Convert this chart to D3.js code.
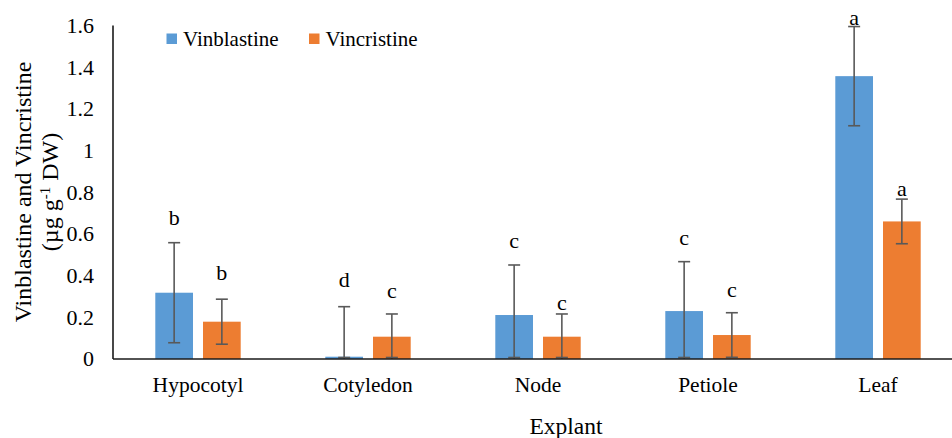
<!DOCTYPE html>
<html>
<head>
<meta charset="utf-8">
<script src="https://cdn.jsdelivr.net/npm/d3@7"></script>
<style>
  body { margin: 0; background: #fff; }
  svg text { font-family: "Liberation Serif", "DejaVu Serif", serif; fill: #000; }
</style>
</head>
<body>
<div id="chart"></div>
<script>
// Data
const explants = ["Hypocotyl", "Cotyledon", "Node", "Petiole", "Leaf"];
const seriesNames = ["Vinblastine", "Vincristine"];
const vinblastine = [0.318, 0.011, 0.211, 0.230, 1.357];
const vinblastineErr = [0.240, 0.240, 0.240, 0.237, 0.238];
const vincristine = [0.179, 0.107, 0.107, 0.115, 0.660];
const vincristineErr = [0.108, 0.109, 0.109, 0.107, 0.107];
const vinblastineLetters = ["b", "d", "c", "c", "a"];
const vincristineLetters = ["b", "c", "c", "c", "a"];
// where the letters sit, in y-axis units
const vinblastineLetterAt = [0.676, 0.379, 0.563, 0.580, 1.635];
const vincristineLetterAt = [0.412, 0.323, 0.269, 0.331, 0.815];
const yTicks = [0, 0.2, 0.4, 0.6, 0.8, 1, 1.2, 1.4, 1.6];

const colors = {Vinblastine: "#5B9BD5", Vincristine: "#ED7D31"};

const width = 952;
const height = 438;
const plot = {left: 113, right: 963, top: 25.5, bottom: 359};
const serif = "'Liberation Serif', 'DejaVu Serif', serif";

const svg = d3.select("#chart")
  .append("svg")
  .attr("width", width)
  .attr("height", height)
  .attr("font-family", serif);

// build rows
const rows = [];
explants.forEach((e, i) => {
  rows.push({explant: e, series: "Vinblastine", value: vinblastine[i], err: vinblastineErr[i],
    letter: vinblastineLetters[i], letterAt: vinblastineLetterAt[i]});
  rows.push({explant: e, series: "Vincristine", value: vincristine[i], err: vincristineErr[i],
    letter: vincristineLetters[i], letterAt: vincristineLetterAt[i]});
});

const x0 = d3.scaleBand()
  .domain(explants)
  .range([plot.left, plot.right])
  .padding(0);

const x1 = d3.scaleBand()
  .domain(seriesNames)
  .range([x0.bandwidth() / 2 - 42.7, x0.bandwidth() / 2 + 42.7])
  .paddingInner(0.21);

const y = d3.scaleLinear()
  .domain([0, 1.6])
  .range([plot.bottom, plot.top]);

// Y tick labels (no tick marks)
svg.append("g")
  .selectAll("text")
  .data(yTicks)
  .enter()
  .append("text")
  .attr("x", 94)
  .attr("y", d => y(d))
  .attr("dy", "0.34em")
  .attr("text-anchor", "end")
  .style("font-family", serif)
  .style("font-size", "22px")
  .text(d => d3.format("")(d));

// Bars
svg.append("g")
  .selectAll("rect")
  .data(rows)
  .enter()
  .append("rect")
  .attr("x", d => x0(d.explant) + x1(d.series))
  .attr("y", d => y(d.value))
  .attr("width", x1.bandwidth())
  .attr("height", d => y(0) - y(d.value))
  .attr("fill", d => colors[d.series]);

// Error bars
const eb = svg.append("g")
  .attr("stroke", "#595959")
  .attr("stroke-width", 1.6);

rows.forEach(d => {
  const cx = x0(d.explant) + x1(d.series) + x1.bandwidth() / 2;
  const top = y(d.value + d.err);
  const bot = y(Math.max(0, d.value - d.err));
  eb.append("line").attr("x1", cx).attr("x2", cx).attr("y1", top).attr("y2", bot);
  eb.append("line").attr("x1", cx - 6).attr("x2", cx + 6).attr("y1", top).attr("y2", top);
  if (d.value - d.err > 0) {
    eb.append("line").attr("x1", cx - 6).attr("x2", cx + 6).attr("y1", bot).attr("y2", bot);
  } else {
    eb.append("line").attr("x1", cx - 6).attr("x2", cx + 6).attr("y1", bot - 1.5).attr("y2", bot - 1.5);
  }
});

// Significance letters
svg.append("g")
  .selectAll("text")
  .data(rows)
  .enter()
  .append("text")
  .attr("x", d => x0(d.explant) + x1(d.series) + x1.bandwidth() / 2)
  .attr("y", d => y(d.letterAt))
  .attr("dy", "0.3em")
  .attr("text-anchor", "middle")
  .style("font-family", serif)
  .style("font-size", "22px")
  .text(d => d.letter);

// Axes lines
svg.append("line")
  .attr("x1", plot.left).attr("x2", width)
  .attr("y1", y(0)).attr("y2", y(0))
  .attr("stroke", "#1a1a1a").attr("stroke-width", 1.6);

svg.append("line")
  .attr("x1", plot.left).attr("x2", plot.left)
  .attr("y1", y(1.6)).attr("y2", y(0))
  .attr("stroke", "#1a1a1a").attr("stroke-width", 1.6);

// Category labels
svg.append("g")
  .selectAll("text")
  .data(explants)
  .enter()
  .append("text")
  .attr("x", d => x0(d) + x0.bandwidth() / 2)
  .attr("y", 392)
  .attr("text-anchor", "middle")
  .style("font-family", serif)
  .style("font-size", "21.5px")
  .text(d => d);

// X axis title
svg.append("text")
  .attr("x", 566)
  .attr("y", 434)
  .attr("text-anchor", "middle")
  .style("font-family", serif)
  .style("font-size", "23.5px")
  .text("Explant");

// Y axis title (two lines)
const yTitle = svg.append("text")
  .attr("transform", "translate(31,192) rotate(-90)")
  .attr("text-anchor", "middle")
  .style("font-family", serif)
  .style("font-size", "24px");

yTitle.append("tspan")
  .attr("x", 0)
  .attr("y", 0)
  .text("Vinblastine and Vincristine");

yTitle.append("tspan")
  .attr("x", 0)
  .attr("y", 27)
  .text("(µg g");
yTitle.append("tspan")
  .attr("dy", -8)
  .style("font-size", "15px")
  .text("-1");
yTitle.append("tspan")
  .attr("dy", 8)
  .text(" DW)");

// Legend
const legend = svg.append("g");
const legendX = [166.5, 309];
seriesNames.forEach((s, i) => {
  legend.append("rect")
    .attr("x", legendX[i])
    .attr("y", 33.5)
    .attr("width", 10.5)
    .attr("height", 10.5)
    .attr("fill", colors[s]);
  legend.append("text")
    .attr("x", legendX[i] + 16.5)
    .attr("y", 45.5)
    .style("font-family", serif)
    .style("font-size", "21px")
    .text(s);
});
</script>
</body>
</html>
